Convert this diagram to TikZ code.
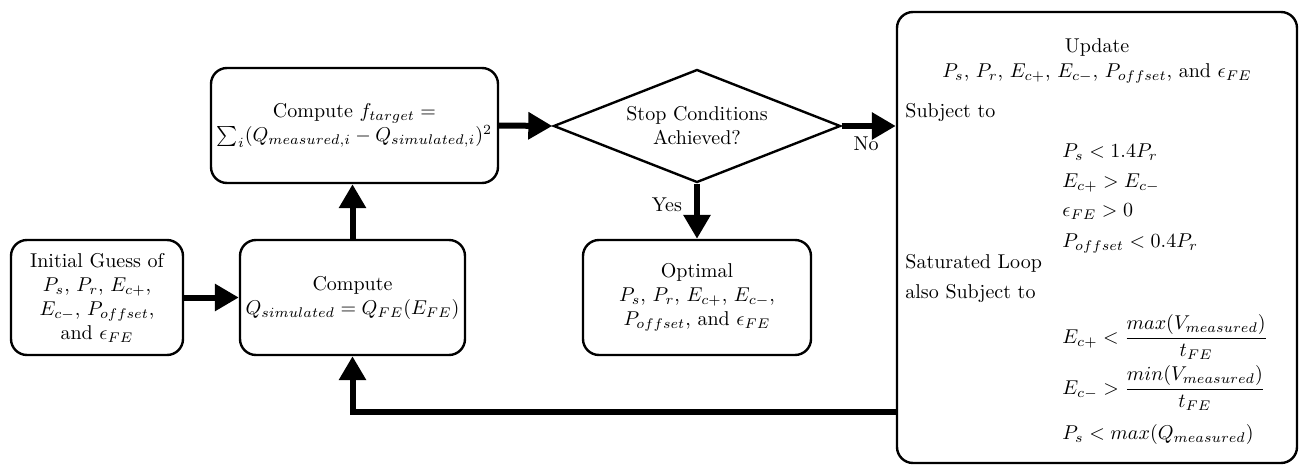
\documentclass[tikz,border=0pt]{standalone}
\usepackage{amsmath}
\usetikzlibrary{shapes.geometric,arrows.meta}
\tikzset{
  box/.style={draw, line width=1.2pt, rounded corners=8pt, align=center, inner sep=2pt, minimum height=57.5pt},
  decision/.style={draw, diamond, aspect=2.54, line width=1.2pt, align=center, inner sep=0pt, minimum width=143.5pt, minimum height=56.5pt},
  flow/.style={line width=3pt, -{Triangle[length=12pt,width=13pt]}},
  lbl/.style={inner sep=0pt},
}
\begin{document}
\begin{tikzpicture}[x=0.5pt,y=-0.5pt]
\useasboundingbox (0,0) rectangle (1302,466);
\node[box, minimum width=86pt] (init) at (97,297.5) {Initial Guess of\\ $P_s$, $P_r$, $E_{c+}$,\\ $E_{c-}$, $P_{offset}$,\\ and $\epsilon_{FE}$};
\node[box, minimum width=112.5pt] (compq) at (352.5,297.5) {Compute\\ $Q_{simulated} = Q_{FE}(E_{FE})$};
\node[box, minimum width=143.5pt] (ftarget) at (354.5,125.5) {Compute $f_{target} =$\\ $\sum_i (Q_{measured,i} - Q_{simulated,i})^2$};
\node[decision] (stop) at (697,126) {Stop Conditions\\ Achieved?};
\node[box, minimum width=114pt] (optimal) at (697,297.5) {Optimal\\ $P_s$, $P_r$, $E_{c+}$, $E_{c-}$,\\ $P_{offset}$, and $\epsilon_{FE}$};
\node[draw, line width=1.2pt, rounded corners=8pt, minimum width=200pt, minimum height=225.5pt, inner sep=0pt] (update) at (1097,237.5) {};
% texts inside update box
\node[lbl, anchor=base] (ut1) at (1097,52) {Update};
\node[lbl, anchor=base] (ut2) at (1097,77) {$P_s$, $P_r$, $E_{c+}$, $E_{c-}$, $P_{offset}$, and $\epsilon_{FE}$};
\node[lbl, anchor=base west] (ut3) at (905,117) {Subject to};
\node[lbl, anchor=base west] (c1) at (1062,157) {$P_s < 1.4P_r$};
\node[lbl, anchor=base west] (c2) at (1062,187) {$E_{c+} > E_{c-}$};
\node[lbl, anchor=base west] (c3) at (1062,216) {$\epsilon_{FE} > 0$};
\node[lbl, anchor=base west] (c4) at (1062,247) {$P_{offset} < 0.4P_r$};
\node[lbl, anchor=base west] (ut4) at (905,268) {Saturated Loop};
\node[lbl, anchor=base west] (ut5) at (905,298) {also Subject to};
\node[lbl, anchor=base west] (c5) at (1062,343) {$E_{c+} < \dfrac{max(V_{measured})}{t_{FE}}$};
\node[lbl, anchor=base west] (c6) at (1062,394) {$E_{c-} > \dfrac{min(V_{measured})}{t_{FE}}$};
\node[lbl, anchor=base west] (c7) at (1062,439) {$P_s < max(Q_{measured})$};
\coordinate (loopy) at (0,412);
% connectors
\draw[flow] (init.east) -- (compq.west);
\draw[flow] (compq.north) -- (compq.north |- ftarget.south);
\draw[flow] (ftarget.east) -- (stop.west);
\draw[flow] (stop.east) -- (stop.east -| update.west) node[pos=0.45, below=4pt, lbl] (no) {No};
\draw[flow] (stop.south) -- (optimal.north) node[pos=0.38, left=6pt, lbl] (yes) {Yes};
\draw[flow] (update.west |- loopy) -| (compq.south);
\end{tikzpicture}
\end{document}
